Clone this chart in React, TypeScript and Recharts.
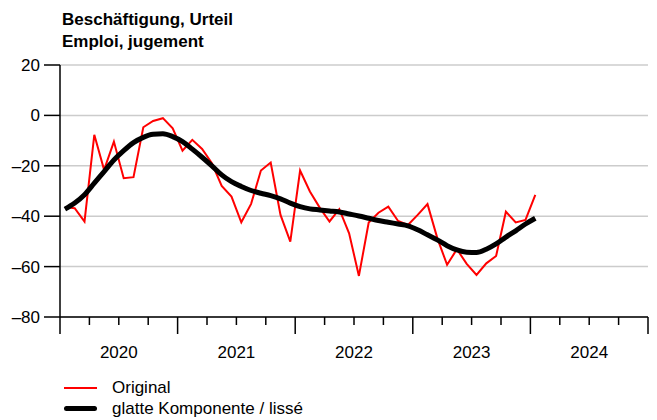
import React from 'react';
import { LineChart, Line, XAxis, YAxis, CartesianGrid } from 'recharts';

const months: number[] = Array.from({ length: 49 }, (_, i) => i);

const original: number[] = [
  -36.4, -36.8, -42.1, -7.7, -21.6, -10.4, -24.9, -24.5, -4.7, -2.2, -1.1, -5.1,
  -14.0, -9.7, -13.3, -19.0, -28.0, -32.2, -42.4, -35.1, -21.9, -18.7, -39.5, -50.1,
  -21.9, -30.2, -36.6, -42.1, -37.2, -46.8, -63.7, -42.5, -38.6, -36.2, -41.9, -43.5,
  -39.5, -35.2, -48.7, -59.3, -53.1, -58.9, -63.3, -58.7, -55.8, -38.2, -42.5, -41.5,
  -31.5,
];

const smooth: number[] = [
  -37.2, -34.8, -31.5, -26.9, -22.3, -17.7, -14.0, -10.8, -8.7, -7.5, -7.3, -8.4,
  -10.4, -13.4, -16.6, -20.0, -23.6, -26.3, -28.2, -29.8, -30.9, -31.8, -33.1, -34.8,
  -36.2, -37.1, -37.5, -37.9, -38.3, -39.1, -39.9, -40.8, -41.7, -42.4, -43.1, -43.8,
  -45.4, -47.4, -49.4, -51.7, -53.4, -54.3, -54.4, -53.1, -51.0, -48.3, -45.8, -43.1,
  -40.8,
];

const startYear = 2020;
const yTicks: number[] = [-80, -60, -40, -20, 0, 20];
const xTicks: number[] = Array.from({ length: 21 }, (_, i) => i * 3);

const data = months.map((m, i) => ({ x: m + 0.5, original: original[i], smooth: smooth[i] }));

const FONT = '"Liberation Sans", Arial, Helvetica, sans-serif';

const XTick = (props: any) => {
  const { x, y, payload } = props;
  const v: number = payload.value;
  const long = v % 12 === 0;
  return (
    <g>
      <line x1={x} x2={x} y1={y} y2={y + (long ? 17 : 8)} stroke="#000" strokeWidth={1.5} />
      {v % 12 === 6 ? (
        <text x={x} y={y + 41} textAnchor="middle" fontSize={17} fill="#000" fontFamily={FONT}>
          {startYear + (v - 6) / 12}
        </text>
      ) : null}
    </g>
  );
};

export default function App() {
  return (
    <div style={{ position: 'absolute', left: 0, top: 0, width: 657, height: 420, background: '#fff', fontFamily: FONT }}>
      <div style={{ position: 'absolute', left: 62, top: 9, fontSize: 17, fontWeight: 'bold', lineHeight: '22px', color: '#000' }}>
        <div>Beschäftigung, Urteil</div>
        <div>Emploi, jugement</div>
      </div>
      <LineChart width={657} height={420} data={data} margin={{ top: 65, right: 9, bottom: 43, left: 0 }}>
        <CartesianGrid vertical={false} stroke="#cccccc" strokeWidth={1.5} />
        <XAxis
          dataKey="x"
          type="number"
          domain={[0, 60]}
          ticks={xTicks}
          interval={0}
          height={60}
          tickLine={false}
          tickSize={0}
          tickMargin={0}
          axisLine={{ stroke: '#000', strokeWidth: 1.5 }}
          tick={<XTick />}
        />
        <YAxis
          type="number"
          domain={[-80, 20]}
          ticks={yTicks}
          interval={0}
          width={60}
          tickSize={16}
          tickMargin={4}
          axisLine={{ stroke: '#000', strokeWidth: 1.5 }}
          tickLine={{ stroke: '#000', strokeWidth: 1.5 }}
          tick={{ fill: '#000', fontSize: 17, fontFamily: FONT }}
          tickFormatter={(v: number) => String(v).replace('-', '–')}
        />
        <Line dataKey="original" stroke="#ff0000" strokeWidth={2} dot={false} type="linear" isAnimationActive={false} />
        <Line dataKey="smooth" stroke="#000" strokeWidth={5} dot={false} type="monotone" isAnimationActive={false} />
      </LineChart>
      <div style={{ position: 'absolute', left: 64, top: 377, fontSize: 17, color: '#000' }}>
        <div style={{ display: 'flex', alignItems: 'center', height: 21 }}>
          <span style={{ display: 'inline-block', width: 33, height: 2, background: '#ff0000', marginRight: 15 }} />
          <span>Original</span>
        </div>
        <div style={{ display: 'flex', alignItems: 'center', height: 21 }}>
          <span style={{ display: 'inline-block', width: 33, height: 5, borderRadius: 2.5, background: '#000', marginRight: 15 }} />
          <span>glatte Komponente / lissé</span>
        </div>
      </div>
    </div>
  );
}
